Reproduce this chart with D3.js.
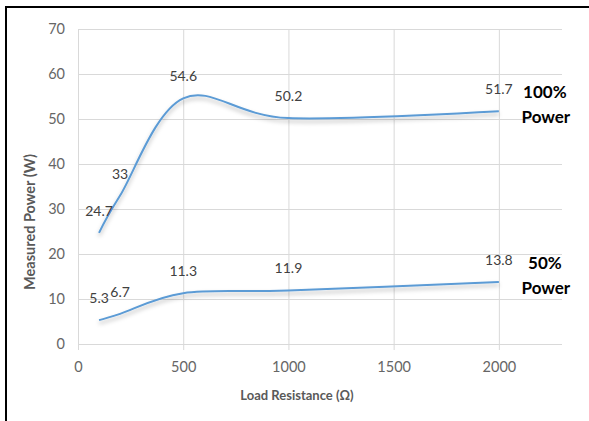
<!DOCTYPE html>
<html>
<head>
<script src="https://d3js.org/d3.v7.min.js"></script>
<style>
  html, body { margin: 0; padding: 0; background: #fff; }
  svg { display: block; font-family: Lato, "Open Sans", sans-serif; }
</style>
</head>
<body>
<div id="chart"></div>
<script>
// load resistance (ohm) and measured power (W)
var resistance = [100, 200, 500, 1000, 2000];
var power100 = [24.7, 33, 54.6, 50.2, 51.7];
var power50 = [5.3, 6.7, 11.3, 11.9, 13.8];
var xTicks = [0, 500, 1000, 1500, 2000];
var yTicks = [0, 10, 20, 30, 40, 50, 60, 70];
var seriesNames = [["100%", "Power"], ["50%", "Power"]];

var W = 589, H = 421;
var svg = d3.select("#chart").append("svg").attr("width", W).attr("height", H);

var x = d3.scaleLinear().domain([0, 2300]).range([78, 562]);
var y = d3.scaleLinear().domain([0, 70]).range([344, 29]);

// shadow under the lines, like the excel effect
var defs = svg.append("defs");
var f = defs.append("filter").attr("id", "shadow")
    .attr("x", "-10%").attr("y", "-30%").attr("width", "120%").attr("height", "160%");
f.append("feDropShadow").attr("dx", 0).attr("dy", 3).attr("stdDeviation", 2)
    .attr("flood-color", "#000").attr("flood-opacity", 0.28);

// frame
svg.append("line").attr("x1", 6).attr("x2", W).attr("y1", 7).attr("y2", 7)
    .attr("stroke", "#000").attr("stroke-width", 2);
svg.append("line").attr("x1", 6).attr("x2", 6).attr("y1", 6).attr("y2", H)
    .attr("stroke", "#000").attr("stroke-width", 2);

// gridlines
svg.append("g").selectAll("line").data(yTicks).enter().append("line")
    .attr("x1", x.range()[0]).attr("x2", x.range()[1])
    .attr("y1", function(d) { return y(d) + 0.5; })
    .attr("y2", function(d) { return y(d) + 0.5; })
    .attr("stroke", "#d9d9d9").attr("stroke-width", 1);
svg.append("g").selectAll("line").data(xTicks).enter().append("line")
    .attr("x1", function(d) { return x(d) + 0.5; })
    .attr("x2", function(d) { return x(d) + 0.5; })
    .attr("y1", y(70)).attr("y2", y(0) + 6)
    .attr("stroke", "#d9d9d9").attr("stroke-width", 1);

// axes (labels only)
var xAxis = svg.append("g").attr("transform", "translate(0," + y(0) + ")")
    .call(d3.axisBottom(x).tickValues(xTicks).tickFormat(d3.format("d"))
        .tickSize(0).tickPadding(18));
var yAxis = svg.append("g").attr("transform", "translate(" + (x(0) - 13) + ",0)")
    .call(d3.axisLeft(y).tickValues(yTicks).tickSize(0).tickPadding(0));
[xAxis, yAxis].forEach(function(a) {
    a.select(".domain").remove();
    a.selectAll("text").attr("fill", "#666").style("font-size", "14.5px")
        .style("font-family", "Lato, sans-serif");
});

// axis titles
svg.append("text").attr("x", 297).attr("y", 400).attr("text-anchor", "middle")
    .attr("fill", "#595959").style("font-size", "13px").style("font-weight", "bold")
    .text("Load Resistance (Ω)");
svg.append("text").attr("transform", "translate(35,222) rotate(-90)")
    .attr("text-anchor", "middle")
    .attr("fill", "#595959").style("font-size", "14.5px").style("font-weight", "bold")
    .text("Measured Power (W)");

var line = d3.line()
    .x(function(d) { return x(d[0]); })
    .y(function(d) { return y(d[1]); })
    .curve(d3.curveCardinal.tension(0));

[power100, power50].forEach(function(vals, i) {
    var pts = resistance.map(function(r, j) { return [r, vals[j]]; });
    svg.append("path").datum(pts)
        .attr("d", line)
        .attr("fill", "none")
        .attr("stroke", "#5b9bd5")
        .attr("stroke-width", 2)
        .attr("filter", "url(#shadow)");

    svg.append("g").selectAll("text").data(pts).enter().append("text")
        .attr("x", function(d) { return x(d[0]); })
        .attr("y", function(d) { return y(d[1]) - 17; })
        .attr("text-anchor", "middle")
        .attr("fill", "#404040")
        .style("font-size", "14px")
        .text(function(d) { return d[1]; });

    var last = pts[pts.length - 1];
    var lab = svg.append("text")
        .attr("x", x(last[0]) + 46)
        .attr("y", y(last[1]) - 13)
        .attr("text-anchor", "middle")
        .attr("fill", "#000")
        .style("font-size", "17px").style("font-weight", "bold");
    lab.append("tspan").attr("x", x(last[0]) + 46).text(seriesNames[i][0]);
    lab.append("tspan").attr("x", x(last[0]) + 47).attr("dy", 25).text(seriesNames[i][1]);
});
</script>
</body>
</html>
